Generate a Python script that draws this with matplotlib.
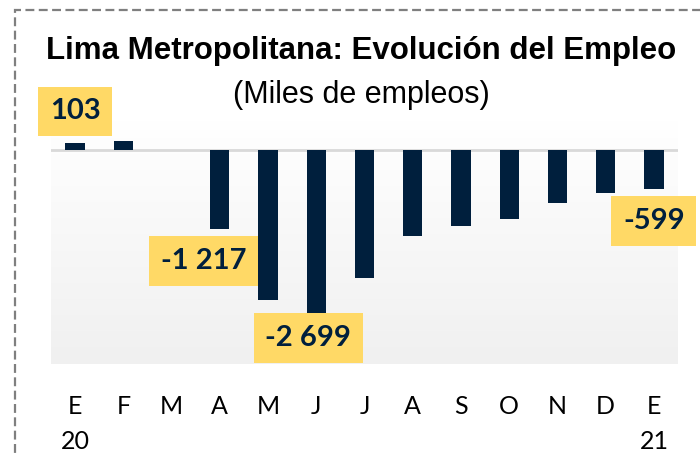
import numpy as np
import matplotlib
matplotlib.use("Agg")
import matplotlib.pyplot as plt
from matplotlib.patches import Rectangle

# Lima Metropolitana - variacion del empleo (miles)
months = ["E", "F", "M", "A", "M", "J", "J", "A", "S", "O", "N", "D", "E"]
years = {0: "20", 12: "21"}
values = [103, 135, -4, -1217, -2316, -2699, -1966, -1320, -1175, -1058, -821, -662, -599]
labelled = [0, 3, 5, 12]

navy = "#001F3D"
yellow = "#FFD966"

fig = plt.figure(figsize=(7, 4.57), dpi=100)
ax = fig.add_axes([51/700, 1 - 364/457, 627/700, 243/457])

# plot area gradient
grad = np.linspace(1, 0, 256).reshape(-1, 1)
ax.imshow(grad, extent=[0, 1, 0, 1], transform=ax.transAxes, aspect="auto",
          cmap=matplotlib.colors.LinearSegmentedColormap.from_list("g", ["#F0F0F0", "#FFFFFF"]),
          zorder=0)

x = np.arange(len(values))
ax.bar(x, values, width=0.4, color=navy, zorder=2)
ax.axhline(0, color="#D9D9D9", lw=2, zorder=1)
ax.set_xlim(-0.5, len(values) - 0.5)
ax.set_ylim(-3300, 450)

def fmt(v):
    s = f"{abs(v):,}".replace(",", " ")
    return "-" + s if v < 0 else s

offsets = {0: (0, 32), 3: (-16, -32), 5: (-8, -13), 12: (0, -32)}
for i in labelled:
    dx, dy = offsets[i]
    ax.annotate(fmt(values[i]), xy=(i, values[i]), xytext=(dx, dy),
                textcoords="offset pixels", ha="center", va="center",
                fontsize=21, fontweight="bold", family="Lato", color=navy,
                bbox=dict(boxstyle="square,pad=0.4", fc=yellow, ec="none"),
                zorder=5, annotation_clip=False)

ticklabels = [m + ("\n" + years[i] if i in years else "") for i, m in enumerate(months)]
ax.set_xticks(x)
ax.set_xticklabels(ticklabels, fontsize=18, family="Lato", linespacing=1.65)
ax.tick_params(axis="x", length=0, pad=22)
ax.set_yticks([])
for s in ax.spines.values():
    s.set_visible(False)

fig.text(361/700, 1 - 51/457, "Lima Metropolitana: Evolución del Empleo",
         ha="center", va="center", fontsize=22.5, fontweight="bold",
         family="Liberation Sans")
fig.text(361/700, 1 - 95/457, "(Miles de empleos)", ha="center", va="center",
         fontsize=22, family="Liberation Sans")

fig.patches.append(Rectangle((15/700, -0.1), 1.2, 1.1 - 10/457, transform=fig.transFigure,
                             fill=False, ec="#7F7F7F", lw=1.6, ls=(0, (4, 2))))

fig.savefig("out.png", dpi=100)
